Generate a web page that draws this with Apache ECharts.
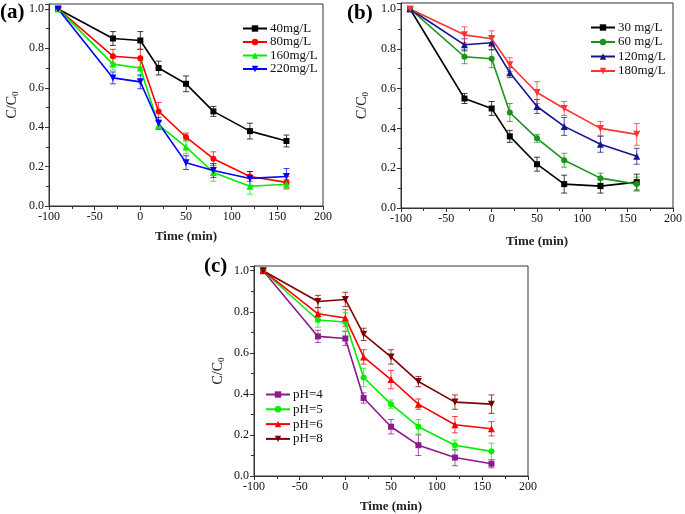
<!DOCTYPE html>
<html>
<head>
<meta charset="utf-8">
<script src="https://cdn.jsdelivr.net/npm/echarts@6/dist/echarts.min.js"></script>
<style>html,body{margin:0;padding:0;background:#fff}#c{width:685px;height:514px}</style>
</head>
<body>
<div id="c"></div>
<script>
// ---- data ----
var times = [-90, -30, 0, 20, 50, 80, 120, 160];
var xTicks = [-100, -50, 0, 50, 100, 150, 200];
var yTicks = [0.0, 0.2, 0.4, 0.6, 0.8, 1.0];

// panel (a)
var namesA = ['40mg/L', '80mg/L', '160mg/L', '220mg/L'];
var a40  = [1.0, 0.85, 0.84, 0.70, 0.62, 0.48, 0.38, 0.33];
var a80  = [1.0, 0.76, 0.75, 0.48, 0.35, 0.24, 0.15, 0.12];
var a160 = [1.0, 0.72, 0.70, 0.41, 0.30, 0.17, 0.10, 0.11];
var a220 = [1.0, 0.65, 0.63, 0.42, 0.22, 0.18, 0.14, 0.15];
var a40e  = [0.01, 0.035, 0.045, 0.035, 0.04, 0.025, 0.04, 0.03];
var a80e  = [0.01, 0.035, 0.045, 0.045, 0.02, 0.035, 0.025, 0.03];
var a160e = [0.01, 0.03, 0.04, 0.02, 0.035, 0.045, 0.04, 0.025];
var a220e = [0.01, 0.03, 0.035, 0.03, 0.035, 0.035, 0.035, 0.04];

// panel (b)
var namesB = ['30 mg/L', '60 mg/L', '120mg/L', '180mg/L'];
var b30  = [1.0, 0.55, 0.50, 0.36, 0.22, 0.12, 0.11, 0.13];
var b60  = [1.0, 0.76, 0.75, 0.48, 0.35, 0.24, 0.15, 0.12];
var b120 = [1.0, 0.82, 0.83, 0.68, 0.51, 0.41, 0.32, 0.26];
var b180 = [1.0, 0.87, 0.85, 0.72, 0.58, 0.50, 0.40, 0.37];
var b30e  = [0.01, 0.025, 0.035, 0.03, 0.035, 0.045, 0.035, 0.04];
var b60e  = [0.01, 0.035, 0.045, 0.045, 0.02, 0.035, 0.025, 0.035];
var b120e = [0.01, 0.03, 0.035, 0.025, 0.035, 0.045, 0.04, 0.04];
var b180e = [0.01, 0.04, 0.04, 0.035, 0.055, 0.035, 0.035, 0.055];

// panel (c)
var namesC = ['pH=4', 'pH=5', 'pH=6', 'pH=8'];
var c4 = [1.0, 0.68, 0.67, 0.38, 0.24, 0.15, 0.09, 0.06];
var c5 = [1.0, 0.76, 0.75, 0.48, 0.35, 0.24, 0.15, 0.12];
var c6 = [1.0, 0.79, 0.77, 0.58, 0.47, 0.35, 0.25, 0.23];
var c8 = [1.0, 0.85, 0.86, 0.69, 0.58, 0.46, 0.36, 0.35];
var c4e = [0.01, 0.03, 0.035, 0.025, 0.035, 0.05, 0.04, 0.02];
var c5e = [0.01, 0.035, 0.045, 0.045, 0.02, 0.035, 0.025, 0.04];
var c6e = [0.01, 0.03, 0.04, 0.035, 0.045, 0.025, 0.04, 0.035];
var c8e = [0.01, 0.03, 0.035, 0.03, 0.035, 0.025, 0.035, 0.045];

// ---- styling ----
var FONT = 'Liberation Serif';
var symbols = ['rect', 'circle', 'triangle', 'path://M0,0 L10,0 L5,9 Z'];
var symSizes = [6, 6, 7, 7];

var panels = [
  {names: namesA, vals: [a40, a80, a160, a220], errs: [a40e, a80e, a160e, a220e],
   colors: ['#000000', '#ff0000', '#00ee00', '#0000ff'],
   grid: {left: 49, top: 4, width: 274, height: 202}, ymax: 1.025,
   legend: {left: 242, top: 22, gap: 0.5}, letter: {text: '(a)', x: 0, y: 2},
   nameGapX: 24, nameGapY: 29},
  {names: namesB, vals: [b30, b60, b120, b180], errs: [b30e, b60e, b120e, b180e],
   colors: ['#000000', '#1b931b', '#14148c', '#ff3333'],
   grid: {left: 401, top: 3, width: 273, height: 205}, ymax: 1.03,
   legend: {left: 590, top: 21, gap: 1.5}, letter: {text: '(b)', x: 347, y: 3},
   nameGapX: 27, nameGapY: 31},
  {names: namesC, vals: [c4, c5, c6, c8], errs: [c4e, c5e, c6e, c8e],
   colors: ['#8b1a8b', '#00ee00', '#ff0000', '#800000'],
   grid: {left: 254, top: 266, width: 274, height: 211}, ymax: 1.023,
   legend: {left: 265, top: 388, gap: 1.8}, letter: {text: '(c)', x: 204, y: 256},
   nameGapX: 24, nameGapY: 28}
];

var grids = [], xAxes = [], yAxes = [], series = [], legends = [], titles = [];

function errItem(color) {
  return function (params, api) {
    var x = api.value(0), y = api.value(1), e = api.value(2);
    var top = api.coord([x, y + e]);
    var bot = api.coord([x, y - e]);
    var hw = 3;
    var st = {stroke: color, lineWidth: 1, opacity: 0.75};
    return {type: 'group', children: [
      {type: 'line', shape: {x1: top[0], y1: top[1], x2: bot[0], y2: bot[1]}, style: st},
      {type: 'line', shape: {x1: top[0] - hw, y1: top[1], x2: top[0] + hw, y2: top[1]}, style: st},
      {type: 'line', shape: {x1: bot[0] - hw, y1: bot[1], x2: bot[0] + hw, y2: bot[1]}, style: st}
    ]};
  };
}

panels.forEach(function (p, i) {
  grids.push(Object.assign({show: true, borderColor: '#333', borderWidth: 1, backgroundColor: 'transparent'}, p.grid));
  xAxes.push({
    gridIndex: i, type: 'value', min: xTicks[0], max: xTicks[xTicks.length - 1], interval: 50,
    name: 'Time (min)', nameLocation: 'middle', nameGap: p.nameGapX,
    nameTextStyle: {fontFamily: FONT, fontSize: 13, fontWeight: 'bold', color: '#222'},
    axisLine: {show: true, onZero: false, lineStyle: {color: '#333', width: 1}},
    axisTick: {show: true, inside: false, length: 4, lineStyle: {color: '#333'}},
    minorTick: {show: true, splitNumber: 2, length: 3, lineStyle: {color: '#333'}},
    splitLine: {show: false},
    axisLabel: {fontFamily: FONT, fontSize: 12, color: '#111', margin: 5}
  });
  yAxes.push({
    gridIndex: i, type: 'value', min: yTicks[0], max: p.ymax, interval: 0.2,
    name: 'C/C{sub|0}', nameLocation: 'middle', nameGap: p.nameGapY, nameRotate: 90,
    nameTextStyle: {fontFamily: FONT, fontSize: 14, color: '#222',
      rich: {sub: {fontFamily: FONT, fontSize: 9, verticalAlign: 'bottom', padding: [6, 0, 0, 0]}}},
    axisLine: {show: true, onZero: false, lineStyle: {color: '#333', width: 1}},
    axisTick: {show: true, inside: false, length: 4, lineStyle: {color: '#333'}},
    minorTick: {show: true, splitNumber: 2, length: 3, lineStyle: {color: '#333'}},
    splitLine: {show: false},
    axisLabel: {fontFamily: FONT, fontSize: 12, color: '#111', margin: 5, showMaxLabel: false,
      formatter: function (v) { return v.toFixed(1); }}
  });
  p.names.forEach(function (nm, k) {
    var col = p.colors[k];
    series.push({
      type: 'custom', name: 'err-' + i + '-' + k, xAxisIndex: i, yAxisIndex: i,
      renderItem: errItem(col), encode: {x: 0, y: 1}, silent: true, z: 1,
      data: times.map(function (t, j) { return [t, p.vals[k][j], p.errs[k][j]]; })
    });
    series.push({
      type: 'line', name: nm, xAxisIndex: i, yAxisIndex: i, z: 2,
      data: times.map(function (t, j) { return [t, p.vals[k][j]]; }),
      symbol: symbols[k], symbolSize: symSizes[k], showAllSymbol: true,
      lineStyle: {color: col, width: 1.6}, itemStyle: {color: col},
      animation: false
    });
  });
  legends.push({
    data: p.names, orient: 'vertical', left: p.legend.left, top: p.legend.top,
    itemWidth: 24, itemHeight: 8, itemGap: p.legend.gap, padding: 0,
    textStyle: {fontFamily: FONT, fontSize: 13, lineHeight: 13, color: '#111', padding: [0, 0, 0, -2]},
    selectedMode: false
  });
  titles.push({
    text: p.letter.text, left: p.letter.x, top: p.letter.y, padding: 0,
    textStyle: {fontFamily: FONT, fontSize: 21, fontWeight: 'bold', color: '#000'}
  });
});

var chart = echarts.init(document.getElementById('c'), null, {renderer: 'canvas'});
chart.setOption({
  animation: false,
  backgroundColor: '#fff',
  title: titles,
  grid: grids,
  xAxis: xAxes,
  yAxis: yAxes,
  legend: legends,
  series: series
});
</script>
</body>
</html>
